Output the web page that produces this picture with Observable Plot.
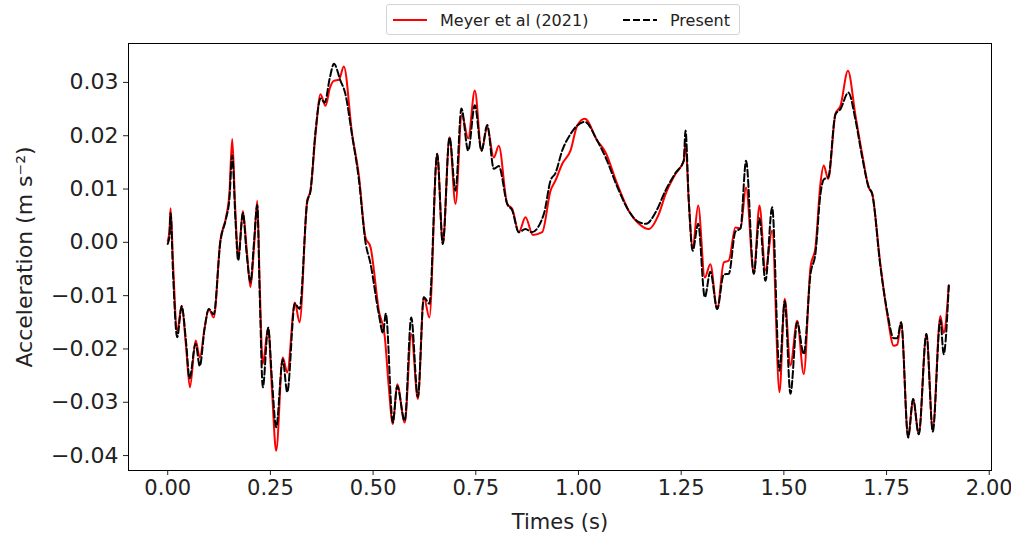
<!DOCTYPE html>
<html>
<head>
<meta charset="utf-8">
<script src="https://cdn.jsdelivr.net/npm/d3@7"></script>
<script src="https://cdn.jsdelivr.net/npm/@observablehq/plot@0.6"></script>
<style>
  html, body { margin: 0; padding: 0; background: #fff; overflow: hidden; }
  #wrap { position: relative; width: 1011px; height: 539px; font-family: "DejaVu Sans", sans-serif; }
  #chart svg { overflow: visible; }
  #legend { position: absolute; left: 386px; top: 4px; width: 354px; height: 31px; border: 1px solid #d4d4d4; border-radius: 3px; background: #fff; box-sizing: border-box; font-size: 16px; color: #222; }
  #legend .item { position: absolute; top: 5px; display: flex; align-items: center; height: 20px; }
  #legend svg { margin-right: 13px; }
</style>
</head>
<body>
<div id="wrap">
  <div id="chart"></div>
  <div id="legend">
    <div class="item" style="left:6px"><svg width="34" height="6"><line x1="0" y1="3" x2="34" y2="3" stroke="red" stroke-width="2"/></svg><span>Meyer et al (2021)</span></div>
    <div class="item" style="left:236px"><svg width="34" height="6"><line x1="0" y1="3" x2="34" y2="3" stroke="black" stroke-width="2" stroke-dasharray="7,3"/></svg><span>Present</span></div>
  </div>
</div>
<script>
const seriesNames = ["Meyer et al (2021)", "Present"];

const meyerT = [0.000,0.004,0.007,0.013,0.023,0.034,0.044,0.054,0.068,0.078,0.090,0.100,0.112,0.128,0.142,0.150,0.157,0.164,0.172,0.183,0.192,0.2015,0.210,0.218,0.224,0.2315,0.2445,0.254,0.264,0.280,0.291,0.3095,0.321,0.3395,0.3476,0.360,0.372,0.384,0.395,0.4045,0.417,0.4287,0.449,0.465,0.4815,0.4937,0.514,0.5285,0.538,0.548,0.5587,0.577,0.593,0.609,0.6235,0.637,0.656,0.6697,0.686,0.7006,0.716,0.7315,0.7476,0.764,0.7778,0.7938,0.806,0.8265,0.8386,0.8547,0.871,0.8888,0.9116,0.932,0.944,0.9603,0.9805,0.997,1.0154,1.0455,1.0657,1.094,1.1225,1.147,1.171,1.1955,1.2118,1.236,1.2563,1.2605,1.2685,1.278,1.2914,1.3075,1.321,1.3377,1.3537,1.366,1.382,1.3944,1.408,1.4268,1.4406,1.4552,1.4715,1.4893,1.5022,1.516,1.5324,1.5484,1.5648,1.577,1.589,1.597,1.608,1.6256,1.6378,1.656,1.6743,1.6906,1.7067,1.715,1.735,1.7515,1.7676,1.776,1.7855,1.8026,1.8147,1.8284,1.847,1.8625,1.881,1.889,1.9015];
const meyerV = [0.0003,0.002,0.0064,-0.004,-0.0166,-0.0119,-0.019,-0.0272,-0.0184,-0.0216,-0.016,-0.0125,-0.0141,0.0003,0.0047,0.009,0.0194,0.007,-0.0028,0.0059,-0.001,-0.0084,-0.001,0.0078,-0.008,-0.0228,-0.016,-0.028,-0.0391,-0.0216,-0.0244,-0.0113,-0.015,0.0078,0.0097,0.0204,0.0278,0.0256,0.029,0.0303,0.0305,0.033,0.0203,0.0128,0.0009,-0.0009,-0.0128,-0.0178,-0.027,-0.0341,-0.0266,-0.0338,-0.0172,-0.0294,-0.0103,-0.0141,0.0166,-0.0003,0.0197,0.0072,0.024,0.0195,0.0285,0.0172,0.0216,0.0159,0.0181,0.0072,0.0063,0.0019,0.0047,0.0014,0.0019,0.0097,0.0116,0.0147,0.0172,0.0219,0.0232,0.0191,0.0169,0.011,0.0059,0.0035,0.0025,0.0053,0.009,0.0128,0.0153,0.0185,0.0078,-0.0009,0.0069,-0.0066,-0.0041,-0.0125,-0.0038,-0.0034,0.0028,0.0026,0.0103,-0.0059,0.0069,-0.0053,0.0022,-0.0281,-0.0106,-0.0231,-0.0147,-0.0247,-0.0047,-0.0009,0.011,0.0144,0.0119,0.0241,0.0256,0.0322,0.0238,0.0166,0.0103,0.0091,-0.0041,-0.0134,-0.0194,-0.0192,-0.015,-0.0366,-0.0294,-0.036,-0.0172,-0.035,-0.0138,-0.017,-0.0081];

const presentT = [0.000,0.004,0.007,0.013,0.023,0.034,0.045,0.053,0.068,0.078,0.090,0.100,0.112,0.128,0.142,0.150,0.157,0.165,0.1715,0.183,0.192,0.2015,0.210,0.218,0.224,0.2315,0.2445,0.254,0.264,0.280,0.291,0.3095,0.321,0.3395,0.3476,0.360,0.372,0.382,0.395,0.4045,0.4207,0.432,0.449,0.465,0.4815,0.4937,0.514,0.524,0.531,0.548,0.5587,0.577,0.5928,0.609,0.6235,0.637,0.656,0.6697,0.686,0.7006,0.715,0.7315,0.7476,0.764,0.7778,0.7938,0.806,0.8265,0.8386,0.8547,0.871,0.886,0.9156,0.932,0.944,0.9603,0.9805,0.997,1.0154,1.0455,1.0657,1.094,1.1225,1.147,1.165,1.1875,1.2118,1.236,1.2563,1.2605,1.2685,1.278,1.2914,1.3075,1.321,1.3377,1.3537,1.366,1.382,1.3944,1.408,1.4268,1.4406,1.4552,1.4715,1.4893,1.5022,1.516,1.5324,1.5484,1.5648,1.577,1.589,1.597,1.608,1.6256,1.6378,1.657,1.6743,1.6906,1.7067,1.715,1.735,1.7515,1.7676,1.776,1.7855,1.8026,1.8147,1.8284,1.847,1.8625,1.881,1.889,1.9015];
const presentV = [-0.0003,0.001,0.0055,-0.006,-0.0178,-0.012,-0.019,-0.0255,-0.019,-0.0232,-0.016,-0.0125,-0.0135,0.0,0.0045,0.008,0.0163,0.004,-0.0034,0.0055,-0.002,-0.0075,0.0,0.007,-0.01,-0.0272,-0.016,-0.026,-0.0347,-0.022,-0.0281,-0.0115,-0.0125,0.0075,0.0097,0.021,0.027,0.0262,0.031,0.0335,0.0303,0.028,0.02,0.012,0.0,-0.004,-0.0135,-0.017,-0.0134,-0.0338,-0.027,-0.0335,-0.0141,-0.029,-0.0103,-0.0115,0.0166,-0.0003,0.0197,0.0097,0.0251,0.0172,0.0257,0.0172,0.022,0.0138,0.0143,0.0072,0.006,0.0019,0.0025,0.0019,0.0053,0.0116,0.013,0.0172,0.0203,0.0219,0.0226,0.0191,0.016,0.0105,0.0059,0.0038,0.0035,0.0056,0.0097,0.013,0.0153,0.021,0.0078,-0.0016,0.0035,-0.0103,-0.0055,-0.0125,-0.006,-0.0059,0.002,0.0026,0.0153,-0.0059,0.0045,-0.0072,0.0066,-0.0241,-0.011,-0.0284,-0.015,-0.021,-0.006,-0.002,0.009,0.0118,0.0122,0.024,0.025,0.0281,0.023,0.016,0.0103,0.0091,-0.0045,-0.013,-0.018,-0.018,-0.015,-0.0366,-0.0294,-0.036,-0.0172,-0.0355,-0.0145,-0.021,-0.0081];

const xTicks = [0, 0.25, 0.5, 0.75, 1.0, 1.25, 1.5, 1.75, 2.0];
const yTicks = [-0.04, -0.03, -0.02, -0.01, 0, 0.01, 0.02, 0.03];

const meyer = meyerT.map((t, i) => ({t, v: meyerV[i], s: seriesNames[0]}));
const present = presentT.map((t, i) => ({t, v: presentV[i], s: seriesNames[1]}));

const chart = Plot.plot({
  width: 1011,
  height: 539,
  marginLeft: 128,
  marginRight: 20,
  marginTop: 43,
  marginBottom: 69,
  style: {fontFamily: "DejaVu Sans, sans-serif", fontSize: "21px", color: "#222", background: "#fff"},
  x: {domain: [-0.0955, 2.0055]},
  y: {domain: [-0.0428, 0.0373]},
  marks: [
    Plot.axisX({ticks: xTicks, tickFormat: d3.format(".2f"), tickSize: 5, tickPadding: 5, fontSize: 21, label: "Times (s)", labelAnchor: "center", labelArrow: "none", labelOffset: 58}),
    Plot.axisY({ticks: yTicks, tickFormat: d3.format(".2f"), tickSize: 5, tickPadding: 5, fontSize: 22, label: "Acceleration (m s⁻²)", labelAnchor: "center", labelArrow: "none", labelOffset: 112}),
    Plot.lineY(meyer, {x: "t", y: "v", stroke: "red", strokeWidth: 2, curve: "monotone-x"}),
    Plot.lineY(present, {x: "t", y: "v", stroke: "black", strokeWidth: 2, strokeDasharray: "7,3", curve: "monotone-x"}),
    Plot.frame({stroke: "black", strokeWidth: 1})
  ]
});
document.getElementById("chart").appendChild(chart);
</script>
</body>
</html>
